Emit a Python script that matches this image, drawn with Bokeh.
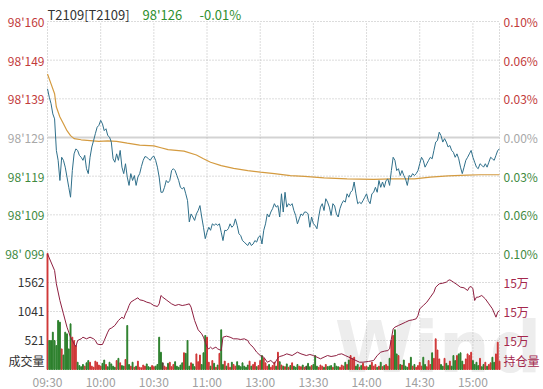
import numpy as np
from bokeh.plotting import figure
from bokeh.models import Range1d, Label, LabelSet, ColumnDataSource
from bokeh.embed import file_html
from bokeh.resources import INLINE
from bokeh.core.properties import value

# ---------------- data ----------------
symbol = "T2109[T2109]"
last_price_text = "98'126"
change_text = "-0.01%"

session_labels = ["09:30", "10:00", "10:30", "11:00", "13:00", "13:30", "14:00", "14:30", "15:00"]
session_end = "15:15"

pre_settle = 98.1295
band = 0.0305
price_tick_labels = ["98'160", "98'149", "98'139", "98'129", "98'119", "98'109", "98' 099"]
pct_tick_labels = ["0.10%", "0.06%", "0.03%", "0.00%", "0.03%", "0.06%", "0.10%"]

vol_axis_max = 2083
vol_tick_values = [1562, 1041, 521]
vol_tick_labels = ["1562", "1041", "521"]
vol_title = "成交量"

oi_axis_min = 150000
oi_axis_max = 152000
oi_tick_values = [151500, 151000, 150500]
oi_tick_labels = ["15万", "15万", "15万"]
oi_title = "持仓量"

watermark = "Wind"

# last price per minute (09:30 .. 15:15, trading minutes)
price = [
    98.1423, 98.1401, 98.1384, 98.1357, 98.1344, 98.1261, 98.1235, 98.1182, 98.1243, 98.1235,
    98.1217, 98.1191, 98.1164, 98.1138, 98.1208, 98.1252, 98.1265, 98.1261, 98.1248, 98.1243,
    98.1235, 98.1248, 98.1213, 98.1200, 98.1243, 98.1270, 98.1287, 98.1305, 98.1322, 98.1327,
    98.1340, 98.1331, 98.1313, 98.1318, 98.1300, 98.1296, 98.1283, 98.1239, 98.1230, 98.1252,
    98.1235, 98.1261, 98.1217, 98.1200, 98.1226, 98.1191, 98.1169, 98.1200, 98.1182, 98.1195,
    98.1169, 98.1191, 98.1200, 98.1219, 98.1235, 98.1245, 98.1243, 98.1239, 98.1235, 98.1243,
    98.1246, 98.1235, 98.1217, 98.1191, 98.1151, 98.1151, 98.1164, 98.1182, 98.1176, 98.1182,
    98.1208, 98.1213, 98.1208, 98.1195, 98.1182, 98.1164, 98.1160, 98.1164, 98.1147, 98.1129,
    98.1073, 98.1094, 98.1086, 98.1077, 98.1094, 98.1103, 98.1116, 98.1086, 98.1059, 98.1029,
    98.1046, 98.1059, 98.1051, 98.1068, 98.1064, 98.1068, 98.1064, 98.1068, 98.1046, 98.1024,
    98.1051, 98.1050, 98.1055, 98.1068, 98.1059, 98.1064, 98.1081, 98.1064, 98.1042, 98.1037,
    98.1024, 98.1020, 98.1015, 98.1011, 98.1020, 98.1011, 98.1015, 98.1024, 98.1020, 98.1033,
    98.1037, 98.1015, 98.1051, 98.1068, 98.1094, 98.1086, 98.1099, 98.1108, 98.1121, 98.1112,
    98.1116, 98.1086, 98.1147, 98.1099, 98.1151, 98.1112, 98.1121, 98.1116, 98.1121, 98.1103,
    98.1090, 98.1068, 98.1081, 98.1094, 98.1090, 98.1099, 98.1099, 98.1094, 98.1059, 98.1086,
    98.1068, 98.1064, 98.1055, 98.1086, 98.1112, 98.1121, 98.1103, 98.1134, 98.1125, 98.1112,
    98.1090, 98.1121, 98.1115, 98.1094, 98.1086, 98.1108, 98.1121, 98.1129, 98.1125, 98.1147,
    98.1138, 98.1151, 98.1156, 98.1178, 98.1147, 98.1121, 98.1125, 98.1121, 98.1129, 98.1138,
    98.1147, 98.1129, 98.1121, 98.1147, 98.1151, 98.1164, 98.1151, 98.1182, 98.1164, 98.1178,
    98.1164, 98.1182, 98.1186, 98.1169, 98.1208, 98.1243, 98.1235, 98.1208, 98.1213, 98.1195,
    98.1208, 98.1195, 98.1186, 98.1169, 98.1195, 98.1191, 98.1200, 98.1195, 98.1200, 98.1208,
    98.1226, 98.1243, 98.1235, 98.1217, 98.1226, 98.1235, 98.1243, 98.1239, 98.1261, 98.1283,
    98.1287, 98.1309, 98.1300, 98.1283, 98.1292, 98.1283, 98.1270, 98.1274, 98.1261, 98.1256,
    98.1243, 98.1252, 98.1239, 98.1217, 98.1200, 98.1217, 98.1235, 98.1243, 98.1252, 98.1261,
    98.1243, 98.1230, 98.1217, 98.1213, 98.1226, 98.1222, 98.1217, 98.1226, 98.1217, 98.1230,
    98.1243, 98.1239, 98.1235, 98.1248, 98.1261, 98.1265,
]

# average price line (sampled points)
avg_minutes = [0, 2, 4, 5, 7, 9, 11, 13, 15, 19, 24, 29, 34, 39, 45, 52, 60, 64, 68, 77,
               84, 88, 92, 98, 105, 113, 120, 128, 137, 145, 156, 169, 184, 194, 207, 216,
               226, 237, 244, 255]
avg_price = [98.1462, 98.1436, 98.1410, 98.1375, 98.1349, 98.1331, 98.1313, 98.1300, 98.1292,
             98.1289, 98.1287, 98.1285, 98.1286, 98.1285, 98.1280, 98.1275, 98.1273, 98.1268,
             98.1263, 98.1259, 98.1249, 98.1239, 98.1230, 98.1221, 98.1214, 98.1208, 98.1204,
             98.1200, 98.1195, 98.1193, 98.1189, 98.1186, 98.1185, 98.1186, 98.1186, 98.1191,
             98.1194, 98.1196, 98.1197, 98.1197]

# volume per minute
volume = [
    2083, 521, 521, 670, 521, 430, 880, 850, 370, 260,
    670, 640, 370, 820, 580, 520, 430, 130, 70, 50,
    90, 60, 120, 160, 130, 60, 40, 150, 130, 80,
    60, 110, 170, 90, 50, 130, 100, 60, 40, 160,
    200, 120, 70, 60, 180, 790, 90, 60, 130, 40,
    60, 150, 40, 30, 80, 60, 100, 50, 40, 70,
    50, 60, 90, 580, 310, 120, 60, 40, 110, 130,
    50, 90, 140, 60, 40, 80, 120, 300, 290, 521,
    60, 120, 100, 50, 280, 140, 260, 90, 300, 611,
    580, 130, 60, 160, 110, 40, 80, 290, 713, 90,
    150, 60, 110, 40, 130, 90, 60, 140, 70, 50,
    120, 60, 40, 80, 150, 60, 90, 130, 50, 70,
    160, 250, 200, 120, 60, 90, 40, 70, 130, 60,
    310, 140, 80, 60, 50, 100, 40, 70, 120, 60,
    40, 90, 60, 50, 80, 40, 60, 110, 50, 70,
    90, 251, 60, 40, 80, 60, 40, 90, 50, 60,
    70, 40, 110, 60, 50, 40, 80, 60, 130, 90,
    170, 251, 200, 220, 60, 90, 40, 70, 110, 50,
    60, 40, 80, 130, 60, 90, 40, 60, 130, 50,
    70, 90, 60, 200, 521, 611, 713, 280, 250, 90,
    80, 170, 60, 40, 110, 220, 60, 90, 40, 70,
    130, 60, 220, 90, 50, 160, 90, 300, 200, 551,
    350, 190, 90, 60, 200, 110, 70, 150, 60, 250,
    160, 250, 280, 300, 150, 90, 190, 280, 250, 310,
    160, 90, 130, 70, 200, 50, 90, 130, 60, 90,
    120, 220, 130, 280, 490, 150,
]

# open interest (sampled points)
oi_minutes = [0, 4, 5, 7, 9, 11, 13, 15, 16, 17, 19, 20, 22, 24, 26, 27, 28, 29, 31, 32,
              34, 35, 36, 38, 40, 41, 42, 43, 44, 45, 46, 47, 49, 51, 52, 54, 56, 58, 60, 62,
              63, 64, 65, 67, 68, 70, 72, 74, 76, 78, 80, 81, 83, 85, 87, 88, 89, 90, 91, 92,
              93, 95, 96, 98, 99, 101, 103, 105, 107, 109, 111, 113, 114, 116, 118, 120, 122,
              124, 126, 128, 130, 131, 133, 135, 138, 141, 143, 146, 148, 150, 152, 154, 156,
              158, 160, 163, 164, 166, 168, 170, 172, 174, 176, 178, 181, 184, 186, 188, 190,
              192, 193, 195, 196, 198, 200, 202, 204, 206, 208, 209, 210, 212, 214, 216, 218,
              219, 221, 223, 225, 226, 227, 229, 231, 233, 235, 237, 238, 239, 240, 241, 242,
              243, 245, 247, 249, 251, 253, 254, 255]
oi_values = [151994, 151707, 151477, 151190, 150960, 150730, 150557, 150442, 150396, 150500,
             150529, 150557, 150529, 150557, 150529, 150500, 150442, 150431, 150431, 150500,
             150644, 150701, 150713, 150759, 150845, 150874, 150902, 150874, 150960, 151017,
             151103, 151161, 151201, 151236, 151201, 151189, 151161, 151144, 151103, 151086,
             151132, 151276, 151247, 151201, 151178, 151132, 151103, 151121, 151103, 151115,
             151132, 151075, 150845, 150684, 150615, 150557, 150471, 150385, 150356, 150385,
             150356, 150385, 150356, 150327, 150557, 150575, 150557, 150529, 150529, 150517,
             150529, 150500, 150442, 150385, 150299, 150241, 150213, 150126, 150155, 150098,
             150201, 150224, 150241, 150270, 150241, 150299, 150270, 150241, 150259, 150241,
             150213, 150184, 150213, 150241, 150224, 150241, 150259, 150270, 150241, 150213,
             150184, 150155, 150126, 150126, 150138, 150155, 150241, 150299, 150316, 150327,
             150356, 150701, 150730, 150759, 150787, 150816, 150845, 150856, 150874, 150931,
             151046, 151103, 151161, 151247, 151333, 151419, 151477, 151488, 151506, 151534,
             151546, 151506, 151465, 151419, 151408, 151362, 151419, 151431, 151391, 151190,
             151247, 151247, 151276, 151218, 151132, 151046, 150902, 150988, 151017]

# ---------------- helpers ----------------
def trade_minute(t):
    h, m = map(int, t.split(":"))
    mins = h * 60 + m
    if mins <= 11 * 60 + 30:
        return mins - (9 * 60 + 30)
    return mins - 13 * 60 + 120


def stretch(lo, hi, px_lo, px_hi, total):
    """Range whose [lo, hi] lands between screen offsets px_lo..px_hi of a span of `total` px."""
    per = (hi - lo) / (px_hi - px_lo)
    return Range1d(lo - px_lo * per, hi + (total - px_hi) * per)


FONT = "Noto Sans CJK SC"
RED_T = "#c23b3b"
GREEN_T = "#3f8a3f"
GRAY_T = "#a8a8a8"
OI_T = "#a4284d"
GRID = "#b9b9b9"

W, H = 543, 389
CH_LEFT, CH_RIGHT = 47, 499      # chart area in canvas px (from left)
CH_TOP, CH_BOTTOM = 21, 369      # chart area in canvas px (from top)

minutes = np.arange(len(price))
x_end = trade_minute(session_end)
y_bottom = pre_settle - 2 * band
y_top = pre_settle + band

price_levels = [pre_settle + band * k / 3.0 for k in (3, 2, 1, 0, -1, -2, -3)]
level_colors = [RED_T if lv > pre_settle + 1e-9 else (GREEN_T if lv < pre_settle - 1e-9 else GRAY_T)
                for lv in price_levels]

p = figure(width=W, height=H, output_backend="svg", toolbar_location=None,
           x_range=stretch(0, x_end, CH_LEFT, CH_RIGHT, W),
           y_range=stretch(y_bottom, y_top, H - CH_BOTTOM, H - CH_TOP, H),
           x_axis_location=None, y_axis_location=None,
           min_border=0, min_border_left=0, min_border_right=0,
           min_border_top=0, min_border_bottom=0)
p.extra_y_ranges = {
    "vol": stretch(0, 3 * vol_axis_max, H - CH_BOTTOM, H - CH_TOP, H),
    "oi": stretch(oi_axis_min, oi_axis_min + 3 * (oi_axis_max - oi_axis_min), H - CH_BOTTOM, H - CH_TOP, H),
}
p.outline_line_color = None
p.xgrid.visible = False
p.ygrid.visible = False
p.background_fill_color = "white"
p.border_fill_color = "white"

# watermark (kept inside the canvas)
p.add_layout(Label(x=162, y=0, y_range_name="vol", y_offset=-19, text=watermark,
                   text_font="DejaVu Sans", text_font_style="bold", text_font_size="72px",
                   text_color="#ededed", text_baseline="bottom", level="underlay"))

# grid lines
for lv in price_levels:
    if abs(lv - pre_settle) < 1e-9:
        p.segment(x0=0, x1=x_end, y0=lv, y1=lv, line_color="#d3d3d3", line_width=2)
    else:
        p.segment(x0=0, x1=x_end, y0=lv, y1=lv, line_color=GRID, line_dash="1 2")
p.segment(x0=[0] * len(vol_tick_values), x1=[x_end] * len(vol_tick_values),
          y0=vol_tick_values, y1=vol_tick_values, y_range_name="vol",
          line_color=GRID, line_dash="1 2")
tick_pos = [trade_minute(t) for t in session_labels]
vlines = tick_pos + [x_end]
p.segment(x0=vlines, x1=vlines, y0=[y_bottom] * len(vlines), y1=[y_top] * len(vlines),
          line_color=GRID, line_dash="1 2")

# volume bars coloured by price change
diffs = np.diff(np.array(price), prepend=price[0] - 1)
bar_colors = ["#cf3535" if d > 1e-9 else ("#2b7f2b" if d < -1e-9 else "#4a3a2a") for d in diffs]
p.vbar(x=minutes, top=volume, width=0.5, bottom=0, color=bar_colors, y_range_name="vol")

# open interest
p.line(oi_minutes, oi_values, y_range_name="oi", line_color="#8e1f40", line_width=1)

# price and average
p.line(avg_minutes, avg_price, line_color="#d49b40", line_width=1.2)
p.line(minutes, price, line_color="#2f6f8a", line_width=1)

txt = dict(text_font=value(FONT), text_font_size=value("12px"), text_baseline="middle")

# left labels
p.add_layout(LabelSet(source=ColumnDataSource(dict(y=price_levels, t=price_tick_labels, c=level_colors)),
                      x=0, y="y", text="t", text_color="c", x_offset=-3, text_align="right", **txt))
p.add_layout(LabelSet(source=ColumnDataSource(dict(y=vol_tick_values, t=vol_tick_labels)),
                      x=0, y="y", text="t", y_range_name="vol", text_color="#333333",
                      x_offset=-3, text_align="right", **txt))
p.add_layout(Label(x=0, y=0, y_range_name="vol", text=vol_title, text_color="#333333",
                   x_offset=-3, y_offset=1, text_align="right", text_baseline="bottom",
                   text_font=FONT, text_font_size="12px"))

# right labels
p.add_layout(LabelSet(source=ColumnDataSource(dict(y=price_levels, t=pct_tick_labels, c=level_colors)),
                      x=x_end, y="y", text="t", text_color="c", x_offset=4, text_align="left", **txt))
p.add_layout(LabelSet(source=ColumnDataSource(dict(y=oi_tick_values, t=oi_tick_labels)),
                      x=x_end, y="y", text="t", y_range_name="oi", text_color=OI_T,
                      x_offset=4, text_align="left", **txt))
p.add_layout(Label(x=x_end, y=oi_axis_min, y_range_name="oi", text=oi_title, text_color=OI_T,
                   x_offset=4, y_offset=1, text_align="left", text_baseline="bottom",
                   text_font=FONT, text_font_size="12px"))

# time labels
p.add_layout(LabelSet(source=ColumnDataSource(dict(x=tick_pos, t=session_labels)),
                      x="x", y=y_bottom, text="t", text_color="#a0a0a0", y_offset=-12,
                      text_align="center", text_baseline="middle",
                      text_font=value(FONT), text_font_size=value("12px")))

# header
hdr = dict(y=y_top, y_offset=7, text_baseline="alphabetic", text_font=FONT, text_font_size="13px")
p.add_layout(Label(x=0, text=symbol, text_color="#333333", x_offset=0, **hdr))
p.add_layout(Label(x=0, text=last_price_text, text_color="#2f8f2f", x_offset=95, **hdr))
p.add_layout(Label(x=0, text=change_text, text_color="#2f8f2f", x_offset=152, **hdr))

open("out.html", "w").write(file_html(p, INLINE))
